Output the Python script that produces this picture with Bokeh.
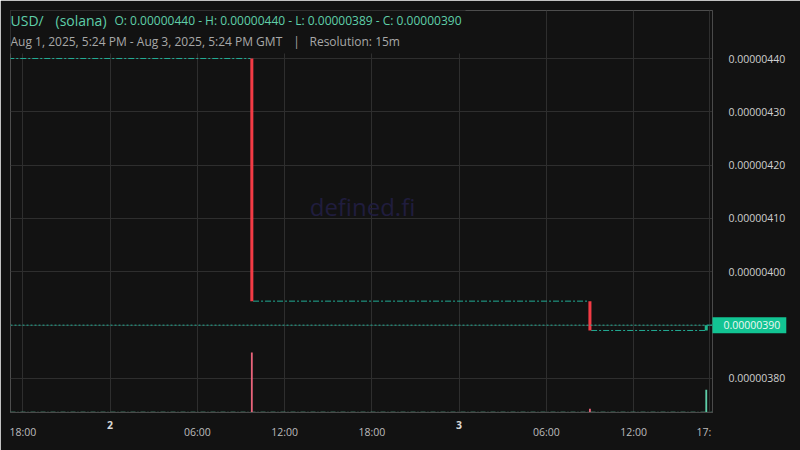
import pandas as pd
from bokeh.plotting import figure
from bokeh.models import (Range1d, FixedTicker, PrintfTickFormatter, Label,
                          Span, BoxAnnotation, ColumnDataSource)
from bokeh.embed import file_html
from bokeh.resources import INLINE

# candles that moved (15m)
candle_time = ["2025-08-02 09:45", "2025-08-03 09:00", "2025-08-03 17:00"]
candle_open = [0.00000440, 0.000003945, 0.00000389]
candle_close = [0.000003945, 0.00000389, 0.00000390]
candle_vol = [152.4, 9.8, 58.1]

# stretches of flat candles (O=H=L=C)
flat_start = ["2025-08-01 17:00", "2025-08-02 09:50", "2025-08-03 09:05", "2025-08-03 17:05"]
flat_end = ["2025-08-02 09:40", "2025-08-03 08:55", "2025-08-03 16:55", "2025-08-03 17:30"]
flat_price = [0.00000440, 0.000003945, 0.00000389, 0.00000390]
flat_vol = 0.4

last_price = 0.00000390
price_ticks = [0.00000380, 0.00000390, 0.00000400, 0.00000410, 0.00000420, 0.00000430, 0.00000440]
time_ticks = ["2025-08-01 18:00", "2025-08-02 00:00", "2025-08-02 06:00", "2025-08-02 12:00",
              "2025-08-02 18:00", "2025-08-03 00:00", "2025-08-03 06:00", "2025-08-03 12:00",
              "2025-08-03 17:15"]
time_labels = ["18:00", "", "06:00", "12:00", "18:00", "", "06:00", "12:00", "17:"]
day_ticks = ["2025-08-02 00:00", "2025-08-03 00:00"]
day_labels = ["2", "3"]

bg = "#121212"
up = "#1fb48c"
down = "#f23b45"
teal = "#22ab94"

def ms(s):
    return pd.Timestamp(s).value / 1e6

# frame: page x 10..712, y 10..412
FW, FH = 702, 402
hour_px = 87.25 / 6
x0 = ms("2025-08-01 18:00") - 12.3 / hour_px * 3600e3
x1 = x0 + FW / hour_px * 3600e3
ppx = 0.0000001 / 53.33
y1 = 0.00000440 + 48 * ppx
y0 = y1 - FH * ppx

def X(px):
    return x0 + (px - 10) * (x1 - x0) / FW

def Y(py):
    return y1 - (py - 10) * ppx

p = figure(frame_width=FW, frame_height=FH, x_axis_type="datetime",
           x_range=Range1d(x0, x1), y_range=Range1d(y0, y1),
           y_axis_location="right", output_backend="svg", toolbar_location=None,
           min_border_left=10, min_border_top=10, min_border_right=88, min_border_bottom=38,
           background_fill_color=bg, border_fill_color=bg, outline_line_color=None)

vol_top = max(candle_vol) * FH / 60
p.extra_y_ranges = {"vol": Range1d(0, vol_top)}

# grid / axes (last time label sits a bit left of its grid line, clipped like the original)
tick_ms = [ms(t) for t in time_ticks]
label_ms = tick_ms[:-1] + [tick_ms[-1] - 25 * 60e3]
p.xaxis.ticker = FixedTicker(ticks=label_ms)
p.xgrid.ticker = FixedTicker(ticks=tick_ms)
p.xaxis.major_label_overrides = dict(zip(label_ms, time_labels))
p.yaxis.ticker = FixedTicker(ticks=[t for t in price_ticks if t != last_price])
p.ygrid.ticker = FixedTicker(ticks=price_ticks)
p.yaxis.formatter = PrintfTickFormatter(format="%.8f")
p.grid.grid_line_color = "#2e2e2e"
for ax in (p.xaxis, p.yaxis):
    ax.axis_line_color = "#4a4a4a"
    ax.major_tick_line_color = None
    ax.minor_tick_line_color = None
    ax.major_label_text_font = "Open Sans"
    ax.major_label_text_font_size = "10.5px"
p.xaxis.major_label_text_color = "#bdbdbd"
p.yaxis.major_label_text_color = "#cfcfcf"
p.xaxis.major_label_standoff = 6
p.yaxis.major_label_standoff = 10

# flat candles
fsrc = ColumnDataSource(dict(x0=pd.to_datetime(flat_start), x1=pd.to_datetime(flat_end), y=flat_price))
p.segment(x0="x0", x1="x1", y0="y", y1="y", source=fsrc, line_color=teal, line_width=1,
          line_dash="6 2 2 2")

# candles
top = [max(o, c) for o, c in zip(candle_open, candle_close)]
bot = [min(o, c) for o, c in zip(candle_open, candle_close)]
cols = [up if c >= o else down for o, c in zip(candle_open, candle_close)]
vcols = ["#5fcfa9" if c >= o else "#e8647a" for o, c in zip(candle_open, candle_close)]
csrc = ColumnDataSource(dict(x=pd.to_datetime(candle_time), top=top, bot=bot, c=cols,
                             vol=candle_vol, vc=vcols))
bw = 12.5 * 60 * 1000
p.vbar(x="x", width=bw, top="top", bottom="bot", source=csrc, fill_color="c", line_color=None)

# volume
p.segment(x0=[x0], x1=[x1], y0=[flat_vol], y1=[flat_vol], y_range_name="vol",
          line_color="#5fcfa9", line_width=1.2, line_dash="5 2 1 2")
p.vbar(x="x", width=bw * 0.6, top="vol", bottom=0, source=csrc, fill_color="vc",
       line_color=None, y_range_name="vol")

# last price line
p.add_layout(Span(location=last_price, dimension="width", line_color=teal,
                  line_dash="2 2", line_width=1))

# header cover
p.add_layout(BoxAnnotation(left=X(0), right=X(465), top=Y(0), bottom=Y(53),
                           fill_color=bg, fill_alpha=1, line_color=None))

def lab(text, px, py, size, color, style="normal", align="left", font="Open Sans"):
    p.add_layout(Label(x=X(px), y=Y(py), text=text, text_font=font, text_font_size=size,
                       text_color=color, text_font_style=style, text_align=align,
                       text_baseline="middle"))

lab("defined.fi", 362, 206, "24px", "#201d3e", align="center")
lab("USD/", 10, 20, "14px", "#5fcfa9")
lab("(solana)", 55, 20, "14px", "#5fcfa9")
lab("O: 0.00000440 - H: 0.00000440 - L: 0.00000389 - C: 0.00000390", 114, 20, "12px", "#5fcfa9")
lab("Aug 1, 2025, 5:24 PM - Aug 3, 2025, 5:24 PM GMT", 10, 41, "12px", "#a8a8a8")
lab("|", 296, 41, "12px", "#a8a8a8", align="center")
lab("Resolution: 15m", 309, 41, "12px", "#a8a8a8")

for t, s in zip(day_ticks, day_labels):
    p.add_layout(Label(x=ms(t), y=Y(424), text=s, text_font="Open Sans", text_font_size="10.5px",
                       text_color="#d8d8d8", text_font_style="bold", text_align="center",
                       text_baseline="middle"), "below")

# last price tag
p.add_layout(Label(x=X(712), y=last_price, text="%.8f" % last_price, text_font="Open Sans",
                   text_font_size="10.5px", text_color="#eef8f3", text_align="left",
                   text_baseline="middle", background_fill_color="#12c493",
                   padding=dict(left=11, right=6, top=4, bottom=4)), "right")

open("out.html", "w").write(file_html(p, INLINE))
